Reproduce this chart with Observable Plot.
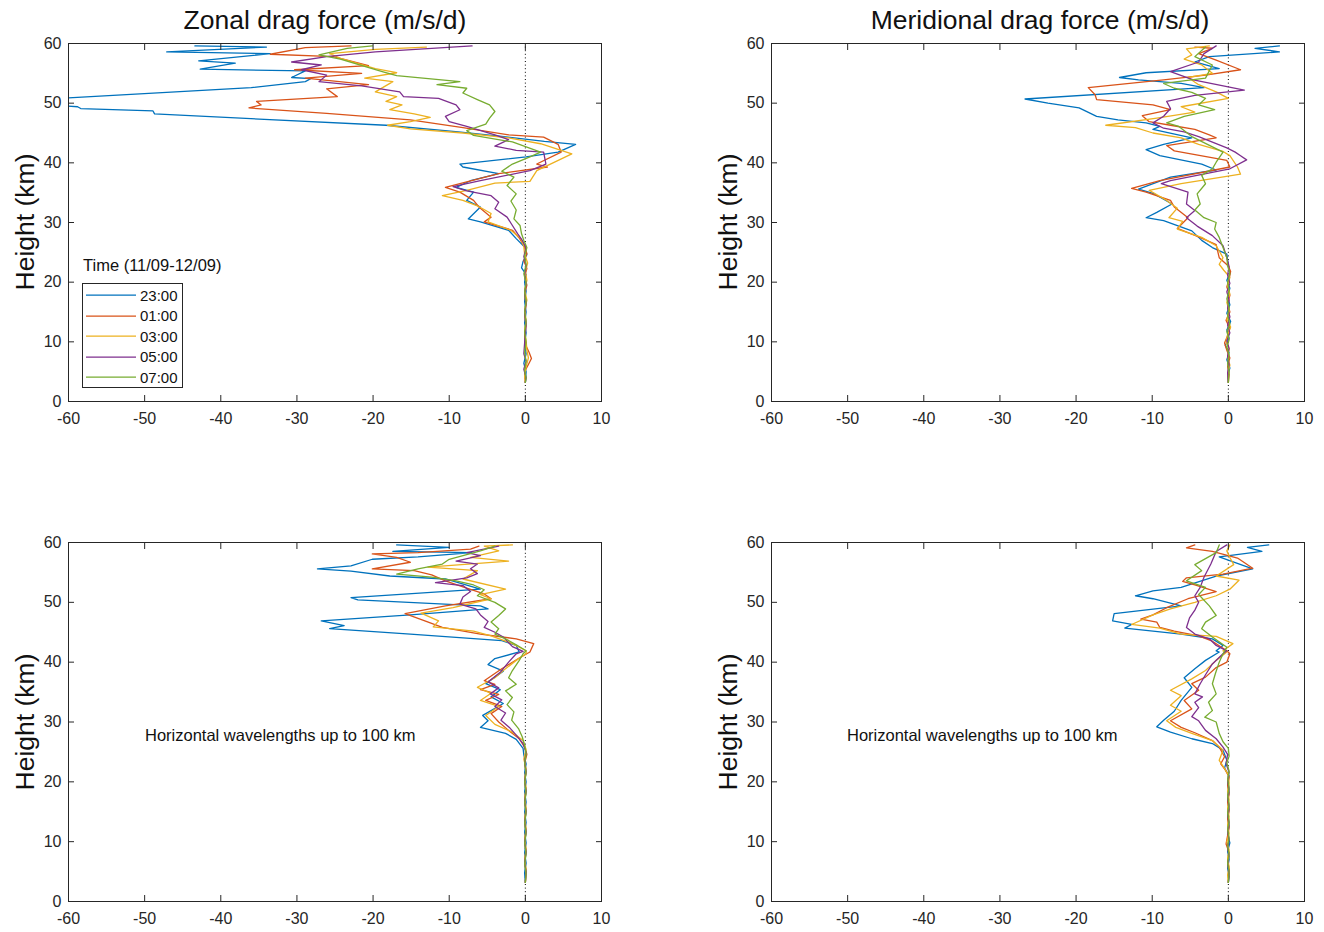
<!DOCTYPE html>
<html>
<head>
<meta charset="utf-8">
<script src="https://cdn.jsdelivr.net/npm/d3@7"></script>
<script src="https://cdn.jsdelivr.net/npm/@observablehq/plot@0.6"></script>
<style>
  html, body { margin: 0; padding: 0; background: #fff; }
  #root { position: relative; width: 1324px; height: 932px; background: #fff; font-family: "Liberation Sans", Arial, Helvetica, sans-serif; color: #262626; overflow: hidden; }
  .panel { position: absolute; }
  .title { position: absolute; font-size: 26.5px; color: #111; white-space: nowrap; transform: translate(-50%, -50%); }
  .ylab { position: absolute; font-size: 26.5px; color: #111; white-space: nowrap; transform: translate(-50%, -50%) rotate(-90deg); }
  .note { position: absolute; font-size: 16.5px; color: #111; white-space: nowrap; transform: translateY(-50%); }
  .legtitle { position: absolute; font-size: 16.5px; color: #111; white-space: nowrap; transform: translateY(-50%); }
  .legend { position: absolute; border: 1px solid #262626; background: #fff; box-sizing: border-box; }
  .legrow { position: absolute; left: 3px; height: 20px; display: flex; align-items: center; font-size: 15px; color: #111; transform: translateY(-50%); }
  .legrow svg { margin-right: 4px; }
</style>
</head>
<body>
<div id="root"></div>
<script>
// ---------- DATA: [height (km), drag force (m/s/d)] ----------
const times = ["23:00", "01:00", "03:00", "05:00", "07:00"];
const xTicks = [-60, -50, -40, -30, -20, -10, 0, 10];
const yTicks = [0, 10, 20, 30, 40, 50, 60];

// Zonal drag force (top left)
const zonal2300 = [
 [59.6,-43.4],[59.4,-34.0],[58.6,-47.1],[58.3,-33.5],[57.1,-42.9],[56.7,-38.1],[55.7,-42.7],[55.4,-28.9],[54.3,-30.7],[54.1,-28.2],[53.6,-28.9],[52.6,-36.0],[50.9,-60.0],[50.4,-61.5],[50.0,-60.6],[49.6,-61.2],[49.4,-58.8],[49.1,-58.4],[48.7,-48.9],[48.2,-48.7],[46.3,-18.3],[45.2,-8.8],[44.4,-2.8],[43.6,2.5],[43.1,6.6],[42.3,5.2],
 [41.8,4.3],[41.0,0.1],[39.8,-8.6],[39.3,-8.2],[38.2,-3.5],[37.0,-7.2],[35.9,-9.1],[35.1,-6.8],[33.7,-7.7],[32.6,-5.9],[30.6,-7.5],[30.1,-5.9],[28.7,-2.2],[27.3,-1.2],[25.9,-0.1],
 [24.6,0.2],[23.5,-0.3],[22.4,-0.5],[21.3,0.1],[20.0,-0.1],[18.5,0.1],[16.8,-0.1],[15.0,0.1],[13.2,-0.1],[11.5,0.1],[9.8,-0.1],[8.0,0.1],[6.4,-0.2],[5.0,0.1],[3.2,0.0]
];
const zonal0100 = [
 [59.6,-22.9],[59.3,-28.9],[58.2,-33.5],[57.8,-25.2],[56.3,-20.6],[55.6,-30.3],[55.0,-21.5],[54.2,-28.9],[53.1,-20.6],[52.4,-26.1],[51.1,-24.7],[50.3,-35.3],[49.7,-34.7],[49.2,-36.3],[48.3,-26.1],[47.2,-15.1],[45.9,-8.2],[44.7,-2.2],[44.3,2.4],[43.1,4.3],
 [41.8,4.7],[39.8,1.5],[39.3,2.9],[38.2,-3.5],[35.9,-10.5],[35.1,-8.6],[33.7,-6.8],[32.6,-6.1],[30.9,-4.5],[30.1,-5.4],[28.7,-1.7],[27.4,-0.8],[25.9,-0.1],
 [24.8,0.2],[23.6,-0.2],[22.3,0.2],[21.0,-0.1],[19.5,0.2],[18.0,-0.1],[16.2,0.1],[14.5,-0.1],[12.7,0.1],[11.0,-0.1],[9.3,0.1],[8.2,0.5],[7.2,0.8],[6.2,0.4],[5.0,-0.1],[3.2,0.0]
];
const zonal0300 = [
 [59.4,-13.0],[59.0,-19.7],[58.3,-25.7],[57.5,-24.3],[55.8,-19.7],[55.1,-16.9],[54.2,-21.1],[53.6,-17.4],[51.9,-19.7],[51.1,-16.9],[50.3,-18.3],[49.7,-16.2],[48.9,-17.8],[48.2,-14.6],[47.6,-12.5],[46.9,-15.1],[46.3,-18.1],[45.7,-15.1],[45.0,-8.2],[44.2,-2.2],[43.2,2.0],
 [41.5,6.1],[38.7,1.5],[36.9,0.6],[36.6,-4.0],[35.4,-7.7],[34.5,-10.9],[33.7,-8.2],[32.8,-6.3],[31.5,-4.5],[30.1,-4.9],[28.7,-1.9],[27.3,-0.6],
 [26.0,-0.2],[24.7,-0.1],[23.2,0.3],[21.8,0.0],[20.3,0.2],[18.7,-0.1],[17.0,0.2],[15.3,-0.1],[13.6,0.1],[11.9,-0.1],[10.2,0.1],[8.6,0.2],[7.3,0.4],[5.8,0.1],[4.4,-0.1],[3.2,0.0]
];
const zonal0500 = [
 [59.6,-7.0],[58.6,-19.7],[57.8,-26.1],[56.9,-30.7],[56.4,-26.8],[55.6,-29.4],[54.7,-26.1],[53.6,-27.1],[52.9,-21.5],[51.9,-16.5],[51.1,-16.0],[50.8,-11.4],[49.7,-9.1],[48.9,-8.6],[47.8,-10.5],[46.9,-10.0],[46.1,-7.7],[44.7,-4.0],[43.9,-2.2],[42.8,-4.0],[42.1,-1.2],
 [41.8,2.4],[39.8,2.7],[38.7,0.6],[37.0,-5.9],[36.0,-9.5],[35.3,-7.7],[34.5,-4.5],[33.4,-3.5],[32.3,-4.0],[30.9,-2.4],[29.5,-1.7],[28.1,-1.0],[27.0,-0.4],
 [25.7,0.1],[24.3,-0.2],[22.8,0.1],[21.2,-0.1],[19.7,0.1],[18.1,-0.1],[16.5,0.1],[14.8,-0.1],[13.1,0.1],[11.4,0.0],[9.7,-0.1],[8.0,-0.2],[6.8,0.1],[5.4,-0.2],[4.0,0.1],[3.2,0.0]
];
const zonal0700 = [
 [59.6,-20.1],[59.2,-23.4],[58.1,-27.1],[57.4,-24.3],[55.3,-18.8],[54.6,-16.9],[53.6,-8.6],[53.1,-11.6],[52.5,-7.7],[51.7,-8.2],[50.6,-6.3],[49.7,-4.7],[48.6,-4.0],[47.5,-4.7],[46.5,-5.2],[45.4,-7.7],[44.6,-6.8],[43.5,-1.7],[42.2,1.1],
 [41.8,2.0],[41.0,0.6],[39.8,-1.7],[38.6,-3.1],[37.6,-1.5],[36.2,-2.4],[34.8,-1.2],[33.6,-1.9],[32.1,-1.2],[30.6,-1.5],[29.5,-0.7],[28.1,-0.5],[27.0,-0.2],
 [25.8,0.2],[24.4,-0.1],[22.9,0.1],[21.4,-0.2],[19.9,0.1],[18.3,-0.1],[16.7,0.1],[15.0,-0.1],[13.3,0.1],[11.6,-0.1],[9.9,0.1],[8.3,-0.1],[6.7,0.1],[5.2,-0.1],[3.9,0.1],[3.2,0.0]
];

// Meridional drag force (top right)
const merid2300 = [
 [59.6,6.7],[59.2,3.5],[58.6,6.7],[57.8,-2.5],[56.9,-4.4],[55.8,-1.2],[55.1,-10.8],[54.3,-14.3],[53.9,-11.8],[53.3,-6.2],[52.6,-3.2],[50.7,-26.7],[50.0,-23.7],[49.2,-19.6],[47.8,-17.3],[47.2,-14.5],[46.7,-10.8],[46.1,-9.0],[45.6,-9.9],[44.2,-4.8],[43.1,-8.5],[42.2,-10.8],
 [41.2,-9.0],[39.8,-3.5],[38.8,-1.6],[37.6,-7.6],[35.6,-11.8],[34.9,-9.9],[33.1,-7.4],[31.7,-9.4],[30.8,-10.8],[30.3,-8.5],[28.6,-4.8],[27.0,-3.5],[25.8,-2.1],[24.7,-0.2],[22.7,0.0],
 [21.5,0.2],[20.3,-0.2],[19.0,0.2],[17.6,-0.1],[16.2,0.2],[14.8,-0.2],[13.4,0.3],[12.0,-0.2],[10.6,0.1],[9.4,-0.4],[8.2,0.1],[7.0,-0.2],[5.6,0.2],[4.3,-0.1],[3.2,0.0]
];
const merid0100 = [
 [59.4,-4.4],[59.2,-2.1],[58.3,-3.9],[57.2,-1.6],[55.6,1.6],[54.7,-3.0],[53.9,-8.5],[52.6,-18.4],[51.4,-17.5],[50.6,-17.3],[49.7,-9.9],[48.9,-7.6],[47.9,-11.3],[46.9,-10.4],[46.3,-7.6],[45.6,-4.4],[44.7,-2.5],[44.2,-1.6],[42.9,-8.1],
 [42.0,-7.1],[40.4,-0.2],[39.3,0.2],[37.0,-9.0],[35.7,-12.7],[35.1,-10.8],[33.7,-7.6],[32.6,-7.1],[30.8,-5.3],[29.0,-6.7],[27.6,-3.9],[26.3,-1.6],[24.1,-1.2],[22.7,0.0],
 [21.8,0.3],[20.5,0.1],[19.2,-0.2],[17.8,0.2],[16.4,-0.1],[15.0,0.2],[13.6,-0.3],[12.3,0.2],[11.0,-0.1],[9.8,-0.5],[8.6,-0.2],[7.3,0.2],[5.9,-0.1],[4.5,0.1],[3.2,0.0]
];
const merid0300 = [
 [59.6,-2.5],[59.1,-5.5],[58.1,-4.8],[57.4,-5.8],[56.4,-3.5],[55.0,-2.1],[54.3,-5.3],[53.1,-3.9],[51.9,-1.6],[50.8,0.0],[49.4,-6.2],[48.5,-4.4],[47.5,-9.4],[46.3,-16.1],[45.9,-12.2],[45.0,-9.9],[44.2,-6.2],[43.1,-3.9],[41.9,-0.7],
 [41.2,0.2],[39.3,1.2],[38.1,1.6],[36.5,-6.2],[35.4,-10.4],[33.7,-8.1],[32.4,-6.7],[30.8,-7.8],[30.2,-6.0],[28.9,-6.7],[27.5,-3.5],[26.1,-1.6],[24.1,-0.7],[23.0,-1.2],
 [22.0,-0.6],[20.8,0.2],[19.4,-0.1],[18.0,0.2],[16.6,-0.2],[15.2,0.1],[13.8,-0.2],[12.5,0.3],[11.2,-0.1],[10.0,-0.3],[8.8,0.1],[7.5,-0.1],[6.1,0.2],[4.6,-0.1],[3.2,0.0]
];
const merid0500 = [
 [59.6,-1.6],[58.3,-3.2],[56.9,-3.9],[55.3,-7.6],[53.9,-4.6],[52.2,2.1],[51.3,-4.4],[50.3,-8.1],[49.1,-7.6],[47.8,-8.5],[46.7,-9.9],[45.8,-8.5],[45.2,-5.8],[44.4,-3.9],[42.5,-0.2],[41.8,0.9],
 [41.2,1.6],[40.5,2.4],[39.0,0.2],[37.0,-7.6],[36.5,-8.8],[35.1,-5.3],[33.1,-5.5],[32.0,-4.4],[30.8,-5.5],[29.4,-4.1],[27.8,-2.1],[26.1,-0.7],[24.1,-0.2],
 [22.6,0.1],[21.2,-0.1],[19.8,0.2],[18.4,-0.2],[17.0,0.1],[15.6,-0.1],[14.2,0.2],[12.8,-0.1],[11.5,0.2],[10.2,-0.2],[8.9,0.1],[7.6,-0.1],[6.2,0.1],[4.8,-0.1],[3.2,0.0]
];
const merid0700 = [
 [59.4,-3.0],[57.8,-4.4],[56.4,-2.1],[54.2,-3.0],[53.3,-8.5],[52.5,-7.1],[51.8,-4.8],[50.8,-3.0],[49.7,-3.9],[48.9,-1.8],[47.8,-5.8],[46.7,-8.1],[46.1,-6.5],[44.4,-4.8],
 [41.8,-0.7],[40.1,-1.6],[39.0,-2.1],[37.9,-3.5],[36.5,-3.0],[34.8,-4.1],[33.1,-3.7],[32.1,-4.4],[30.8,-3.2],[30.0,-1.6],[28.9,-1.8],[27.5,-1.2],[25.8,-0.7],[24.1,-0.2],
 [22.8,-0.1],[21.4,0.2],[20.0,-0.1],[18.6,0.1],[17.2,-0.2],[15.8,0.1],[14.4,-0.1],[13.0,0.2],[11.7,-0.2],[10.4,0.1],[9.1,-0.2],[7.8,0.1],[6.4,-0.1],[5.0,0.1],[3.2,0.0]
];

// Zonal, horizontal wavelengths up to 100 km (bottom left)
const zonalShort2300 = [
 [59.6,-16.9],[59.2,-10.0],[58.5,-17.4],[58.3,-7.0],[57.6,-14.1],[57.2,-20.1],[56.1,-22.9],[55.6,-27.3],[55.2,-22.9],[54.4,-17.8],[53.9,-10.5],[52.2,-5.9],[50.8,-22.9],[50.4,-22.0],[49.4,-5.9],[48.9,-4.9],[47.9,-15.1],[46.9,-26.8],[46.1,-23.8],[45.6,-25.7],[44.7,-15.1],[43.6,-3.1],[42.8,-1.2],
 [41.7,-0.8],[40.6,-4.0],[39.6,-4.9],[38.5,-2.9],[37.5,-4.0],[36.4,-5.2],[35.4,-3.3],[34.2,-4.5],[33.1,-2.9],[31.9,-4.5],[31.1,-5.6],[30.2,-4.9],[29.1,-5.9],[28.1,-2.6],[27.1,-1.2],[25.6,-0.3],
 [24.5,-0.2],[23.0,0.1],[21.5,-0.1],[20.0,0.1],[18.3,-0.1],[16.6,0.1],[14.9,-0.1],[13.2,0.1],[11.5,-0.1],[9.8,0.1],[8.1,-0.1],[6.4,0.1],[4.8,-0.1],[3.2,0.0]
];
const zonalShort0100 = [
 [59.4,-6.1],[58.9,-7.2],[58.3,-14.1],[58.1,-20.1],[57.5,-16.9],[56.7,-15.1],[55.6,-20.1],[55.3,-14.6],[54.6,-12.3],[53.6,-10.5],[52.6,-8.2],[51.4,-5.4],[50.6,-4.5],[49.4,-10.5],[48.1,-15.8],[46.9,-13.2],[45.8,-10.9],[44.7,-5.9],[43.9,-1.2],[43.1,1.1],
 [41.7,0.6],[40.7,-0.8],[38.9,-3.1],[36.9,-5.4],[36.3,-4.0],[35.4,-5.9],[34.6,-3.5],[33.6,-5.2],[32.6,-3.1],[31.4,-4.5],[30.0,-3.5],[28.6,-2.2],[27.2,-0.8],[25.8,-0.1],
 [24.6,0.2],[23.1,-0.1],[21.6,0.1],[20.1,-0.1],[18.5,0.1],[16.8,-0.1],[15.1,0.1],[13.4,-0.1],[11.7,0.1],[10.0,-0.1],[8.3,0.1],[6.6,-0.1],[5.0,0.1],[3.2,0.0]
];
const zonalShort0300 = [
 [59.6,-1.7],[59.4,-5.4],[58.6,-3.5],[57.5,-7.2],[56.9,-2.2],[55.9,-12.8],[55.3,-6.3],[53.9,-8.2],[52.2,-2.6],[51.3,-5.9],[50.6,-4.5],[49.1,-9.5],[48.2,-13.7],[46.9,-11.4],[45.9,-12.1],[45.2,-6.8],[44.4,-4.5],[43.1,-1.7],[41.9,0.1],
 [41.4,0.1],[40.3,-1.2],[38.6,-2.9],[37.4,-4.0],[35.8,-6.3],[34.8,-4.5],[33.6,-5.9],[32.6,-3.5],[31.1,-5.2],[29.6,-4.0],[28.3,-1.7],[26.9,-0.3],
 [25.4,0.1],[23.8,-0.2],[22.2,0.1],[20.6,-0.1],[19.0,0.1],[17.3,-0.1],[15.6,0.1],[13.9,-0.1],[12.2,0.1],[10.5,-0.1],[8.8,0.1],[7.1,-0.1],[5.4,0.1],[3.2,0.0]
];
const zonalShort0500 = [
 [59.4,-3.5],[58.3,-7.7],[57.8,-5.9],[56.9,-9.1],[56.4,-6.3],[55.6,-7.2],[54.8,-6.3],[54.1,-7.7],[53.3,-11.8],[52.8,-8.2],[51.8,-7.2],[50.9,-8.2],[49.7,-8.6],[48.9,-6.5],[47.9,-5.9],[46.8,-4.9],[45.8,-5.4],[45.0,-4.0],[44.2,-2.9],[42.6,-1.7],[41.8,-0.3],
 [41.4,-1.2],[40.0,-2.2],[38.3,-3.3],[36.7,-4.9],[35.7,-3.5],[34.7,-4.6],[33.7,-3.1],[32.6,-4.0],[31.5,-2.6],[30.3,-3.2],[29.1,-2.1],[27.8,-1.2],[26.4,-0.3],
 [24.9,0.1],[23.3,-0.1],[21.7,0.1],[20.1,-0.1],[18.4,0.1],[16.7,-0.1],[15.0,0.1],[13.3,-0.1],[11.6,0.1],[9.9,-0.1],[8.2,0.1],[6.5,-0.1],[4.9,0.1],[3.2,0.0]
];
const zonalShort0700 = [
 [59.4,-4.0],[58.6,-5.9],[57.2,-10.0],[56.4,-10.9],[55.6,-14.1],[54.7,-16.9],[54.2,-12.3],[53.6,-9.1],[52.9,-6.8],[52.1,-5.4],[51.1,-6.3],[50.0,-4.0],[48.9,-2.6],[47.8,-3.5],[46.7,-4.5],[45.6,-3.5],[44.7,-4.0],[43.9,-2.6],[42.9,-1.2],[41.9,0.1],
 [41.4,-0.3],[40.3,-0.8],[38.6,-1.7],[37.4,-2.2],[36.3,-1.2],[35.2,-2.6],[34.1,-1.7],[32.9,-2.4],[31.7,-1.5],[30.3,-1.8],[28.9,-0.9],[27.5,-0.4],[26.1,-0.1],
 [24.7,0.1],[23.1,-0.1],[21.5,0.1],[19.9,-0.1],[18.2,0.1],[16.5,-0.1],[14.8,0.1],[13.1,-0.1],[11.4,0.1],[9.7,-0.1],[8.0,0.1],[6.3,-0.1],[4.7,0.1],[3.2,0.0]
];

// Meridional, horizontal wavelengths up to 100 km (bottom right)
const meridShort2300 = [
 [59.6,5.3],[59.2,2.5],[58.5,4.4],[57.6,-1.2],[55.6,3.2],[54.4,-1.6],[52.5,-6.2],[51.9,-9.9],[51.1,-12.2],[50.6,-9.9],[49.4,-6.2],[48.1,-15.0],[46.9,-15.2],[46.3,-12.7],[45.7,-13.6],[44.7,-6.2],[43.9,-2.1],[42.8,-0.7],[41.9,-1.6],
 [41.7,-1.2],[40.3,-3.0],[38.9,-4.4],[37.4,-5.8],[35.8,-4.8],[33.6,-6.2],[31.8,-7.1],[30.3,-8.5],[29.2,-9.4],[28.3,-7.6],[27.2,-4.8],[26.4,-2.1],[25.3,-0.7],[23.6,-0.2],
 [22.3,-0.5],[21.0,0.1],[19.6,-0.1],[18.2,0.1],[16.8,-0.1],[15.4,0.1],[14.0,-0.1],[12.6,0.1],[11.2,-0.1],[9.8,0.2],[8.4,-0.1],[7.0,0.1],[5.6,-0.1],[4.2,0.1],[3.2,0.0]
];
const meridShort0100 = [
 [59.6,-4.4],[59.1,-5.5],[58.5,-2.1],[57.4,1.2],[55.7,3.2],[54.7,-0.7],[54.1,-5.5],[53.5,-6.0],[52.9,-4.4],[51.8,-1.6],[50.6,-5.3],[49.1,-8.1],[47.9,-9.9],[47.2,-11.5],[46.7,-9.4],[45.8,-9.0],[45.2,-7.1],[44.4,-3.9],[43.5,-2.1],[41.9,-0.2],
 [41.4,0.2],[40.0,-0.2],[39.1,-1.6],[37.5,-3.0],[36.4,-4.8],[35.3,-3.9],[33.6,-5.8],[32.2,-4.8],[30.2,-7.6],[29.1,-6.2],[28.2,-4.4],[26.9,-2.1],[25.8,-1.2],[24.2,-0.5],
 [23.0,-1.0],[22.0,-0.4],[20.8,0.1],[19.4,-0.1],[18.0,0.1],[16.6,-0.1],[15.2,0.1],[13.8,-0.1],[12.4,0.1],[11.0,-0.1],[9.6,-0.3],[8.2,0.1],[6.8,-0.1],[5.4,0.1],[3.2,0.0]
];
const meridShort0300 = [
 [59.6,0.2],[58.6,-0.2],[57.5,0.2],[56.3,0.7],[54.4,-1.6],[53.7,1.4],[52.2,0.2],[51.1,-1.6],[50.0,-4.4],[48.9,-7.6],[47.9,-9.9],[46.3,-12.7],[45.7,-9.0],[44.7,-6.2],[44.3,-1.6],[43.1,0.6],[41.9,-0.7],
 [41.7,-0.2],[40.3,-1.6],[38.6,-3.0],[37.2,-4.8],[35.3,-7.6],[34.4,-6.2],[32.8,-7.6],[31.8,-6.2],[30.2,-8.1],[29.1,-6.9],[28.1,-4.8],[26.9,-2.1],[25.3,-0.7],
 [23.6,-1.2],[22.4,-0.6],[21.2,0.0],[19.8,0.1],[18.4,-0.1],[17.0,0.1],[15.6,-0.1],[14.2,0.1],[12.8,-0.1],[11.4,0.1],[10.0,-0.2],[8.6,0.1],[7.2,-0.1],[5.8,0.1],[4.4,-0.1],[3.2,0.0]
];
const meridShort0500 = [
 [59.6,-0.2],[58.5,-1.6],[56.4,-2.3],[54.2,-3.2],[52.5,-3.7],[51.1,-4.4],[50.0,-3.9],[48.7,-4.4],[47.4,-5.1],[45.8,-5.5],[44.7,-4.4],[43.9,-2.5],[42.8,-1.6],[41.9,-0.2],
 [41.4,-0.7],[39.7,-2.1],[37.9,-3.0],[36.4,-3.7],[34.7,-4.4],[34.2,-3.4],[33.3,-4.4],[32.4,-3.9],[30.9,-4.8],[30.2,-3.9],[28.6,-3.0],[27.2,-1.6],[25.8,-0.7],
 [24.6,-0.1],[23.0,-0.3],[21.6,0.1],[20.2,-0.1],[18.8,0.1],[17.4,-0.1],[16.0,0.1],[14.6,-0.1],[13.2,0.1],[11.8,-0.1],[10.4,0.1],[9.0,-0.1],[7.6,0.1],[6.2,-0.1],[4.8,0.1],[3.2,0.0]
];
const meridShort0700 = [
 [59.6,-1.2],[58.3,-1.6],[56.3,-4.4],[55.3,-3.5],[53.6,-5.5],[52.5,-3.0],[51.3,-3.9],[49.4,-2.5],[47.8,-1.6],[46.7,-3.0],[45.6,-3.5],[44.2,-2.1],[42.5,-0.2],
 [41.4,-0.7],[40.0,-1.2],[38.1,-1.7],[36.4,-2.1],[34.7,-1.6],[33.3,-2.6],[31.9,-2.1],[30.8,-3.1],[30.0,-1.6],[28.1,-1.2],[26.7,-0.7],[25.6,0.0],
 [24.3,0.1],[23.2,-0.2],[21.8,0.1],[20.4,-0.1],[19.0,0.1],[17.6,-0.1],[16.2,0.1],[14.8,-0.1],[13.4,0.1],[12.0,-0.1],[10.6,0.1],[9.2,-0.1],[7.8,0.1],[6.4,-0.1],[5.0,0.1],[3.2,0.0]
];

// ---------- STYLE ----------
const colors = ["#0072BD", "#D95319", "#EDB120", "#7E2F8E", "#77AC30"];
const root = document.getElementById("root");

function panel(seriesList, left, top, height) {
  const svg = Plot.plot({
    width: 620,
    height: height,
    marginLeft: 68, marginRight: 19, marginTop: 43, marginBottom: 29,
    x: {domain: [-60, 10]},
    y: {domain: [0, 60]},
    style: {fontFamily: '"Liberation Sans", Arial, Helvetica, sans-serif', fontSize: "16px", color: "#262626", background: "transparent", overflow: "visible"},
    marks: [
      Plot.ruleX([0], {stroke: "#000", strokeWidth: 1, strokeDasharray: "1,2.6"}),
      ...seriesList.map((s, i) => Plot.line(s, {x: d => d[1], y: d => d[0], stroke: colors[i], strokeWidth: 1.3, clip: true})),
      Plot.axisX({ticks: xTicks, tickSize: 0, tickPadding: 11, tickFormat: d => String(d), label: null, fontSize: 16}),
      Plot.axisX({ticks: xTicks, tickSize: -6, text: null, label: null}),
      Plot.axisX({anchor: "top", ticks: xTicks, tickSize: -6, text: null, label: null}),
      Plot.axisY({ticks: yTicks, tickSize: 0, tickPadding: 7, tickFormat: d => String(d), label: null, fontSize: 16}),
      Plot.axisY({ticks: yTicks, tickSize: -6, text: null, label: null}),
      Plot.axisY({anchor: "right", ticks: yTicks, tickSize: -6, text: null, label: null}),
      Plot.frame({stroke: "#262626", strokeWidth: 1})
    ]
  });
  svg.classList.add("panel");
  svg.style.left = left + "px";
  svg.style.top = top + "px";
  root.appendChild(svg);
}

panel([zonal2300, zonal0100, zonal0300, zonal0500, zonal0700], 0, 0, 430);
panel([merid2300, merid0100, merid0300, merid0500, merid0700], 703, 0, 430);
panel([zonalShort2300, zonalShort0100, zonalShort0300, zonalShort0500, zonalShort0700], 0, 499, 431);
panel([meridShort2300, meridShort0100, meridShort0300, meridShort0500, meridShort0700], 703, 499, 431);

function addDiv(cls, text, x, y) {
  const d = document.createElement("div");
  d.className = cls;
  d.textContent = text;
  d.style.left = x + "px";
  d.style.top = y + "px";
  root.appendChild(d);
  return d;
}

addDiv("title", "Zonal drag force (m/s/d)", 325, 20);
addDiv("title", "Meridional drag force (m/s/d)", 1040, 20);
addDiv("ylab", "Height (km)", 25, 222);
addDiv("ylab", "Height (km)", 728, 222);
addDiv("ylab", "Height (km)", 25, 722);
addDiv("ylab", "Height (km)", 728, 722);
addDiv("note", "Horizontal wavelengths up to 100 km", 145, 735);
addDiv("note", "Horizontal wavelengths up to 100 km", 847, 735);

// legend
addDiv("legtitle", "Time (11/09-12/09)", 83, 265);
const leg = document.createElement("div");
leg.className = "legend";
leg.style.left = "82px"; leg.style.top = "283px"; leg.style.width = "101px"; leg.style.height = "105px";
root.appendChild(leg);
times.forEach((t, i) => {
  const row = document.createElement("div");
  row.className = "legrow";
  row.style.top = (11 + i * 20.6) + "px";
  const ns = "http://www.w3.org/2000/svg";
  const s = document.createElementNS(ns, "svg");
  s.setAttribute("width", "50"); s.setAttribute("height", "4");
  const l = document.createElementNS(ns, "line");
  l.setAttribute("x1", "0"); l.setAttribute("x2", "50"); l.setAttribute("y1", "2"); l.setAttribute("y2", "2");
  l.setAttribute("stroke", colors[i]); l.setAttribute("stroke-width", "1.25");
  s.appendChild(l);
  row.appendChild(s);
  const span = document.createElement("span");
  span.textContent = t;
  row.appendChild(span);
  leg.appendChild(row);
});
</script>
</body>
</html>
